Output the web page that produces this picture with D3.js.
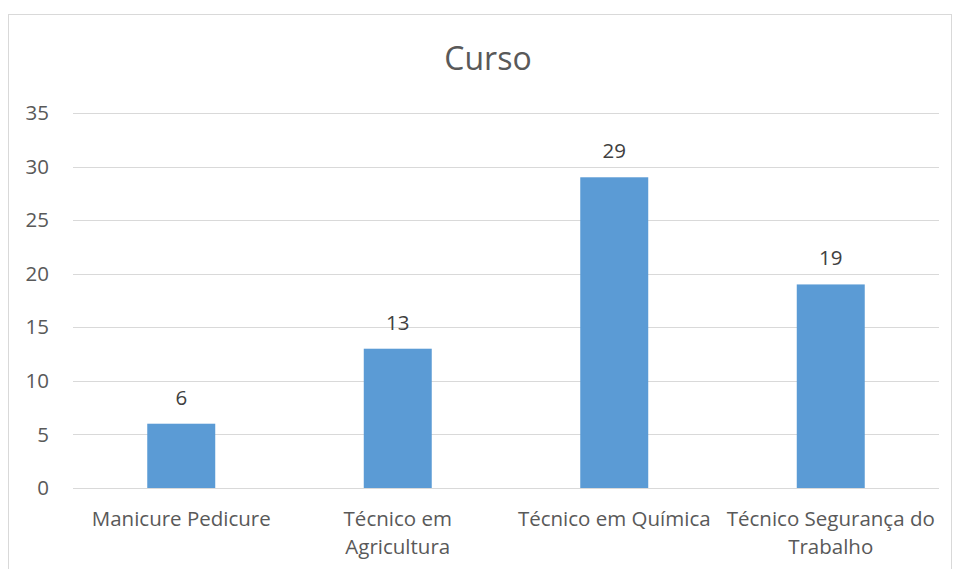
<!DOCTYPE html>
<html>
<head>
<meta charset="utf-8">
<script src="https://cdn.jsdelivr.net/npm/d3@7"></script>
<style>
  body { margin: 0; background: #fff; }
  text { font-family: "Open Sans", sans-serif; fill: #595959; }
</style>
</head>
<body>
<div id="chart"></div>
<script>
// data
let categories = ["Manicure Pedicure", "Técnico em Agricultura", "Técnico em Química", "Técnico Segurança do Trabalho"];
let labelLines = [["Manicure Pedicure"], ["Técnico em", "Agricultura"], ["Técnico em Química"], ["Técnico Segurança do", "Trabalho"]];
let values = [6, 13, 29, 19];
let yTicks = [0, 5, 10, 15, 20, 25, 30, 35];
let title = "Curso";

let width = 953, height = 569;
let margin = {left: 73, right: 14, top: 113, bottom: 81};
let fontSize = "20.5px";

let svg = d3.select("#chart").append("svg")
    .attr("width", width)
    .attr("height", height);

// chart border (the right and bottom sides fall outside the picture)
svg.append("rect")
    .attr("x", 8.5)
    .attr("y", 14.5)
    .attr("width", 943)
    .attr("height", 570)
    .attr("fill", "none")
    .attr("stroke", "#d9d9d9");

svg.append("text")
    .attr("x", 488)
    .attr("y", 70)
    .attr("text-anchor", "middle")
    .style("font-size", "32px")
    .text(title);

let x = d3.scaleBand()
    .domain(categories)
    .range([margin.left, width - margin.right]);

let y = d3.scaleLinear()
    .domain([0, 35])
    .range([height - margin.bottom, margin.top]);

// gridlines
svg.append("g")
  .selectAll("line")
  .data(yTicks)
  .enter().append("line")
    .attr("x1", margin.left)
    .attr("x2", width - margin.right)
    .attr("y1", function(d) { return Math.round(y(d)) + 0.5; })
    .attr("y2", function(d) { return Math.round(y(d)) + 0.5; })
    .attr("stroke", "#d9d9d9")
    .attr("stroke-width", 1);

// y labels
svg.append("g")
  .selectAll("text")
  .data(yTicks)
  .enter().append("text")
    .attr("x", 49)
    .attr("y", function(d) { return y(d); })
    .attr("dy", "0.35em")
    .attr("text-anchor", "end")
    .style("font-size", fontSize)
    .text(function(d) { return d; });

let barW = x.bandwidth() * 0.314;

svg.append("g")
  .selectAll("rect")
  .data(values)
  .enter().append("rect")
    .attr("x", function(d, i) { return x(categories[i]) + (x.bandwidth() - barW) / 2; })
    .attr("y", function(d) { return y(d); })
    .attr("width", barW)
    .attr("height", function(d) { return y(0) - y(d); })
    .attr("fill", "#5b9bd5");

// value labels
svg.append("g")
  .selectAll("text")
  .data(values)
  .enter().append("text")
    .attr("x", function(d, i) { return x(categories[i]) + x.bandwidth() / 2; })
    .attr("y", function(d) { return y(d) - 19; })
    .attr("text-anchor", "middle")
    .style("font-size", fontSize)
    .style("fill", "#404040")
    .text(function(d) { return d; });

// category labels
let cat = svg.append("g")
  .selectAll("text")
  .data(categories)
  .enter().append("text")
    .attr("x", function(d) { return x(d) + x.bandwidth() / 2; })
    .attr("y", 526)
    .attr("text-anchor", "middle")
    .style("font-size", fontSize);

cat.selectAll("tspan")
  .data(function(d, i) { return labelLines[i]; })
  .enter().append("tspan")
    .attr("x", function() { return d3.select(this.parentNode).attr("x"); })
    .attr("dy", function(d, i) { return i == 0 ? 0 : 28; })
    .text(function(d) { return d; });
</script>
</body>
</html>
